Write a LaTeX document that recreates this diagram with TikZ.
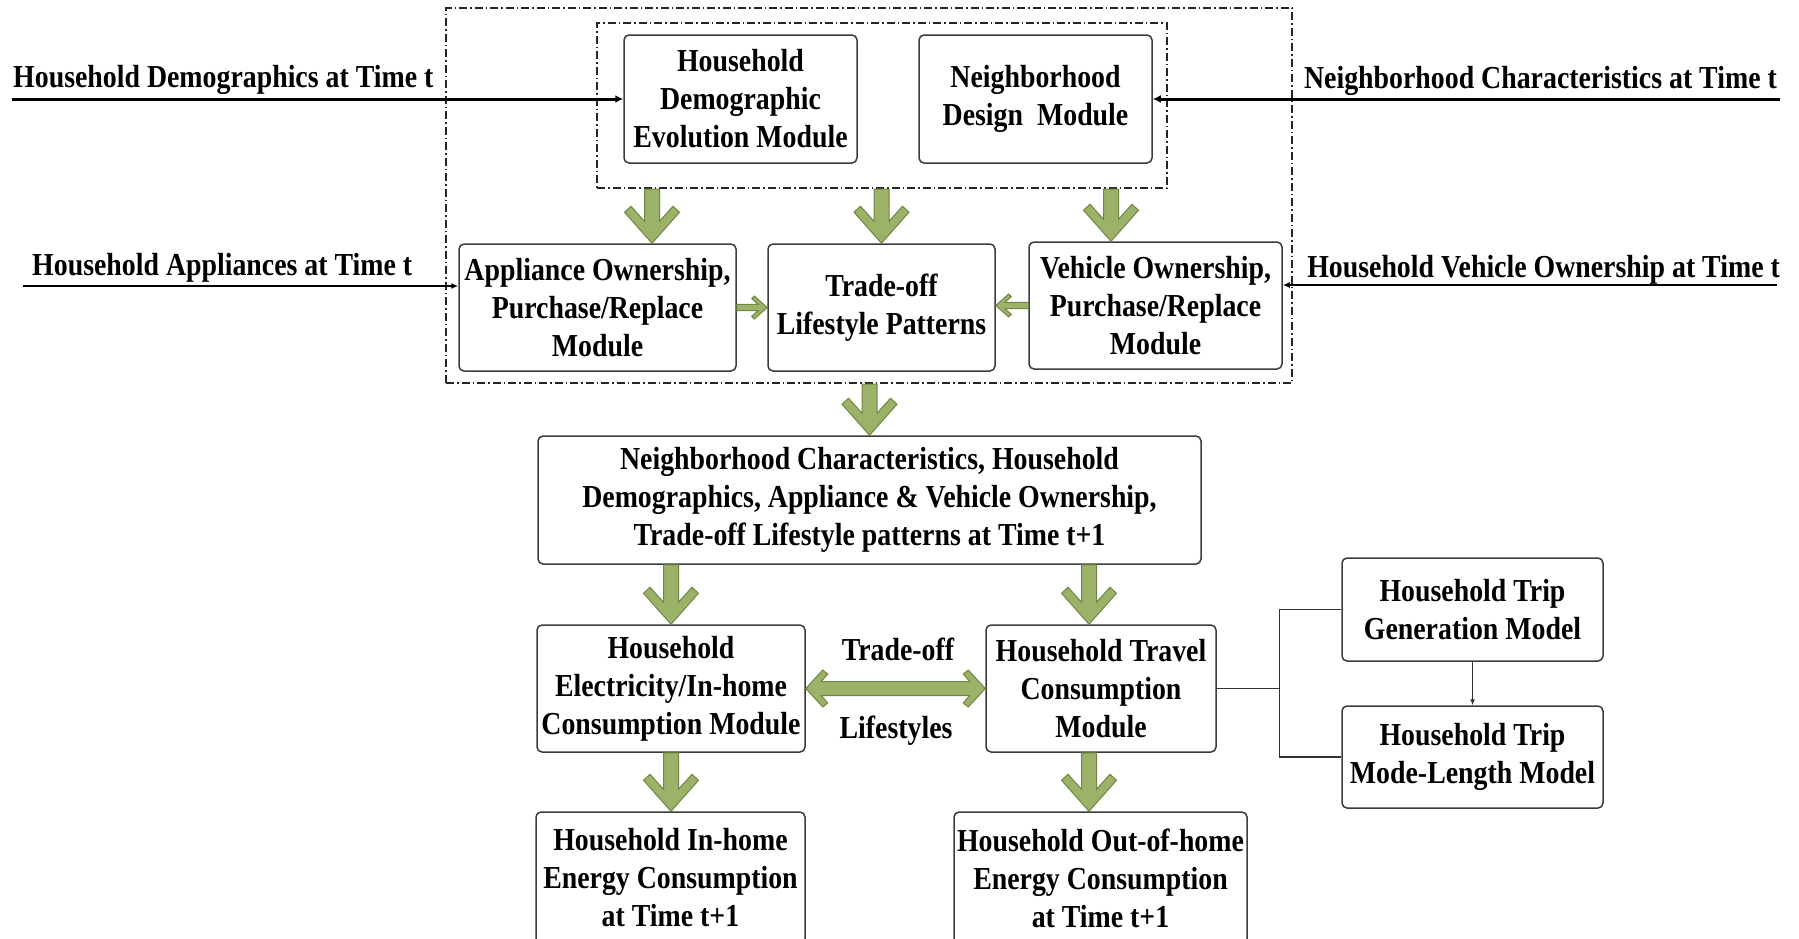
\documentclass[tikz,border=0pt]{standalone}
\usepackage{fontspec}
\setmainfont{Liberation Serif}[FakeStretch=0.87]
\usetikzlibrary{arrows.meta,calc}

\definecolor{boxline}{RGB}{60,60,60}
\definecolor{gfill}{RGB}{155,178,104}
\definecolor{gline}{RGB}{112,134,68}

\tikzset{
  txt/.style={font=\fontsize{32pt}{38pt}\selectfont\bfseries, align=center, inner sep=0pt},
  module/.style={txt, draw=boxline, line width=1.5pt, rounded corners=5pt, fill=white},
  frame/.style={draw=black!85, line width=2pt, dash pattern=on 8pt off 3pt on 1.5pt off 3pt, inner sep=0pt},
  garrow/.style={fill=gfill, draw=gline, line width=1pt, line join=miter},
  feed/.style={draw=black, line width=3pt, -{Latex[length=8pt,width=8pt]}},
  feedthin/.style={draw=black, line width=1.4pt, -{Latex[length=7pt,width=6pt]}},
  link/.style={draw=black!80, line width=1.4pt},
}

% block arrow pointing down: #1 = start of the shaft, #2 = tip
\newcommand\greendown[2]{%
  \draw[garrow] let \p1=#1, \p2=#2 in
    (\x2,\y2) -- (\x2+27.5pt,\y2+31pt) -- (\x2+21pt,\y2+37pt) -- (\x2+7.5pt,\y2+22pt)
    -- (\x2+7.5pt,\y1) -- (\x2-7.5pt,\y1) -- (\x2-7.5pt,\y2+22pt)
    -- (\x2-21pt,\y2+37pt) -- (\x2-27.5pt,\y2+31pt) -- cycle;}

% small horizontal block arrow: #1 = start of the shaft, #2 = tip
\newcommand\greenside[2]{%
  \draw[garrow] let \p1=#1, \p2=#2, \n1={sign(\x2-\x1)} in
    (\x2,\y2) -- (\x2-\n1*13pt,\y2+11.5pt) -- (\x2-\n1*15.5pt,\y2+8.8pt) -- (\x2-\n1*9.2pt,\y2+3.2pt)
    -- (\x1,\y2+3.2pt) -- (\x1,\y2-3.2pt) -- (\x2-\n1*9.2pt,\y2-3.2pt)
    -- (\x2-\n1*15.5pt,\y2-8.8pt) -- (\x2-\n1*13pt,\y2-11.5pt) -- cycle;}

% double-headed horizontal block arrow between #1 (left tip) and #2 (right tip)
\newcommand\greenboth[2]{%
  \draw[garrow] let \p1=#1, \p2=#2 in
    (\x1,\y1) -- (\x1+17pt,\y1+18.5pt) -- (\x1+22pt,\y1+14.5pt) -- (\x1+15.5pt,\y1+7pt)
    -- (\x2-15.5pt,\y1+7pt) -- (\x2-22pt,\y1+14.5pt) -- (\x2-17pt,\y1+18.5pt)
    -- (\x2,\y1) -- (\x2-17pt,\y1-18.5pt) -- (\x2-22pt,\y1-14.5pt) -- (\x2-15.5pt,\y1-7pt)
    -- (\x1+15.5pt,\y1-7pt) -- (\x1+22pt,\y1-14.5pt) -- (\x1+17pt,\y1-18.5pt) -- cycle;}

\begin{document}
\begin{tikzpicture}[x=1pt,y=-1pt]
\fill[white] (0,0) rectangle (1799,938);
\useasboundingbox (0,0) rectangle (1799,938);

% dash-dotted grouping frames
\node[frame, minimum width=846pt, minimum height=375pt] (outer) at (869,195.5) {};
\node[frame, minimum width=570pt, minimum height=165pt] (inner) at (882,105.5) {};

% upper modules
\node[module, minimum width=233pt, minimum height=128pt] (hde) at (740.5,99)
  {Household\\Demographic\\Evolution Module};
\node[module, minimum width=233pt, minimum height=128pt] (nd) at (1035.5,99)
  {Neighborhood\\Design\ \ Module};
\node[module, minimum width=277pt, minimum height=127pt] (app) at (597.5,307.5)
  {Appliance Ownership,\\Purchase/Replace\\Module};
\node[module, minimum width=227pt, minimum height=127pt] (tol) at (881.5,307.5)
  {Trade-off\\Lifestyle Patterns};
\node[module, minimum width=253pt, minimum height=127pt] (veh) at (1155.5,305.5)
  {Vehicle Ownership,\\Purchase/Replace\\Module};

% summary of state at t+1
\node[module, minimum width=663pt, minimum height=128pt] (big) at (869.5,500)
  {Neighborhood Characteristics, Household\\Demographics, Appliance \& Vehicle Ownership,\\Trade-off Lifestyle patterns at Time t+1};

% consumption modules
\node[module, minimum width=268pt, minimum height=127pt] (elec) at (671,688.5)
  {Household\\Electricity/In-home\\Consumption Module};
\node[module, minimum width=230pt, minimum height=127pt] (trav) at (1101,688.5)
  {Household Travel\\Consumption\\Module};
\node[module, minimum width=261pt, minimum height=103pt] (gen) at (1472.5,609.5)
  {Household Trip\\Generation Model};
\node[module, minimum width=261pt, minimum height=102pt] (mode) at (1472.5,757)
  {Household Trip\\Mode-Length Model};

% outcomes
\node[module, minimum width=269pt, minimum height=132pt] (inh) at (670.5,878)
  {Household In-home\\Energy Consumption\\at Time t+1};
\node[module, minimum width=293pt, minimum height=132pt] (outh) at (1100.5,878)
  {Household Out-of-home\\Energy Consumption\\at Time t+1};

% inputs at time t
\node[txt, anchor=base west] (labD) at (13,87) {Household Demographics at Time t};
\node[txt, anchor=base west] (labA) at (32,275) {Household Appliances at Time t};
\node[txt, anchor=base east] (labN) at (1777,88) {Neighborhood Characteristics at Time t};
\node[txt, anchor=base east] (labV) at (1780,277) {Household Vehicle Ownership at Time t};

\coordinate (dL) at (12,99);
\coordinate (nR) at (1780,99);
\coordinate (aL) at (23,286);
\coordinate (vR) at (1777,285);
\draw[feed] (dL) -- (hde.west);
\draw[feed] (nR) -- (nd.east);
\draw[feedthin] (aL) -- (app.west |- aL);
\draw[feedthin] (vR) -- (veh.east |- vR);

% trade-off labels
\node[txt, anchor=base] (lt1) at (898,660) {Trade-off};
\node[txt, anchor=base] (lt2) at (896,738) {Lifestyles};

% block arrows
\coordinate (a1) at ([xshift=54.5pt]app.north);
\coordinate (a3) at ([xshift=-44.5pt]veh.north);
\coordinate (a6) at ([xshift=-12pt]trav.north);
\greendown{(inner.south -| a1)}{(a1)}
\greendown{(inner.south -| tol.north)}{(tol.north)}
\greendown{(inner.south -| a3)}{(a3)}
\greendown{(outer.south -| big.north)}{(big.north)}
\greendown{(big.south -| elec.north)}{(elec.north)}
\greendown{(big.south -| a6)}{(a6)}
\greendown{(elec.south)}{(elec.south |- inh.north)}
\greendown{(a6 |- trav.south)}{(a6 |- outh.north)}

\greenside{(app.east)}{(app.east -| tol.west)}
\greenside{(veh.west)}{(veh.west -| tol.east)}
\greenboth{(elec.east)}{(elec.east -| trav.west)}

% travel sub-models
\coordinate (bus) at ([xshift=63pt]trav.east);
\draw[link] (trav.east) -- (bus);
\draw[link] (gen.west) -| (bus) |- (mode.west);
\draw[link, line width=1.2pt, -{Latex[length=6pt,width=5pt]}] (gen.south) -- (mode.north);
\end{tikzpicture}
\end{document}
